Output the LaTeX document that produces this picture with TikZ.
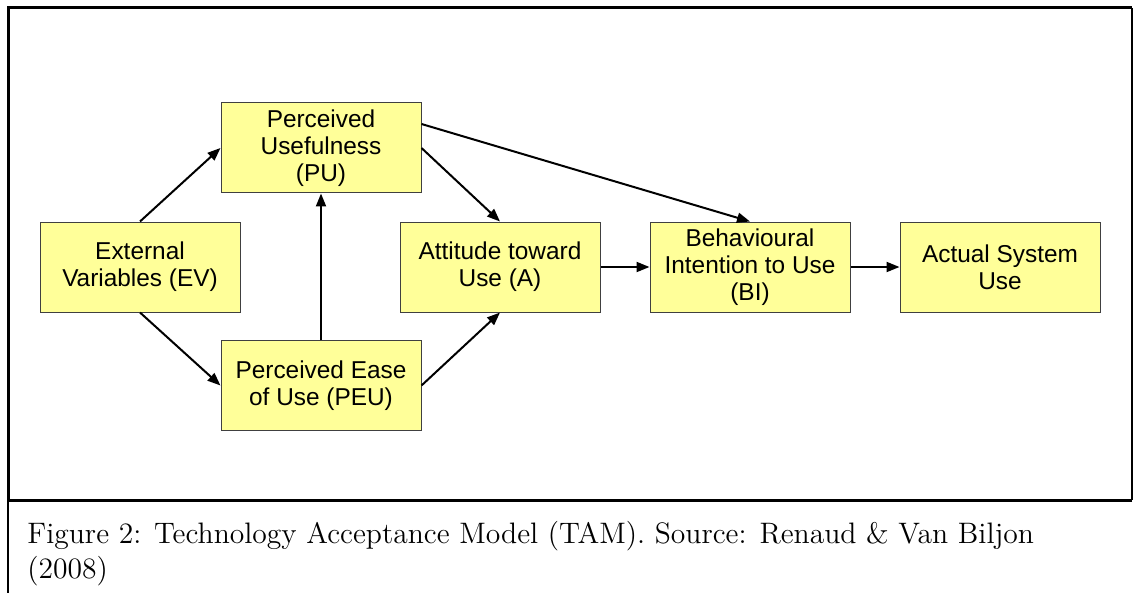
\documentclass[tikz,border=0pt]{standalone}
\usepackage{fontspec}
\newfontfamily\boxfont{Liberation Sans}
\usepackage{tikz}
\usetikzlibrary{arrows.meta,positioning}
\definecolor{boxfill}{HTML}{FFFF99}
\definecolor{boxline}{HTML}{404040}

\begin{document}
\begin{tikzpicture}[x=0.5pt,y=-0.5pt,
  tam/.style={draw=boxline,fill=boxfill,line width=0.5pt,minimum width=100pt,
              minimum height=45pt,align=center,inner sep=0pt,
              font=\boxfont\fontsize{12.2}{13.5}\selectfont},
  arr/.style={-{Triangle[length=6.5pt,width=5pt]},line width=1pt},
  capt/.style={font=\fontsize{14.8}{17.5}\selectfont,align=left,inner sep=0pt}
]
\useasboundingbox (0,0) rectangle (1133,593);
% frame
\draw[line width=1.5pt] (1132,500) -- (8,500) -- (8,8) -- (1132,8);
\draw[line width=0.7pt] (1132,8) -- (1132,500);
\draw[line width=0.8pt] (8,500) -- (8,593);
% boxes
\node[tam] (ev) at (140,267) {External\\Variables (EV)};
\node[tam,right=-10pt of ev,yshift=59.5pt] (pu) {Perceived\\Usefulness\\(PU)};
\node[tam,right=-10pt of ev,yshift=-59.25pt] (peu) {Perceived Ease\\of Use (PEU)};
\node[tam,right=79.5pt of ev] (att) {Attitude toward\\Use (A)};
\node[tam,right=24.5pt of att] (bi) {Behavioural\\Intention to Use\\(BI)};
\node[tam,right=24.5pt of bi] (asu) {Actual System\\Use};
% connectors
\draw[arr] (ev.north) -- (pu.west);
\draw[arr] (ev.south) -- (peu.west);
\draw[arr] (peu.north) -- (pu.south);
\draw[arr] (pu.east) -- (att.north);
\draw[arr] ([yshift=12pt]pu.east) -- (bi.north);
\draw[arr] (peu.east) -- (att.south);
\draw[arr] (att.east) -- (bi.west);
\draw[arr] (bi.east) -- (asu.west);
% caption
\node[capt,anchor=north west] (cap) at (27,521)
  {Figure 2: Technology Acceptance Model (TAM). Source: Renaud \& Van Biljon\\(2008)};
\end{tikzpicture}
\end{document}
